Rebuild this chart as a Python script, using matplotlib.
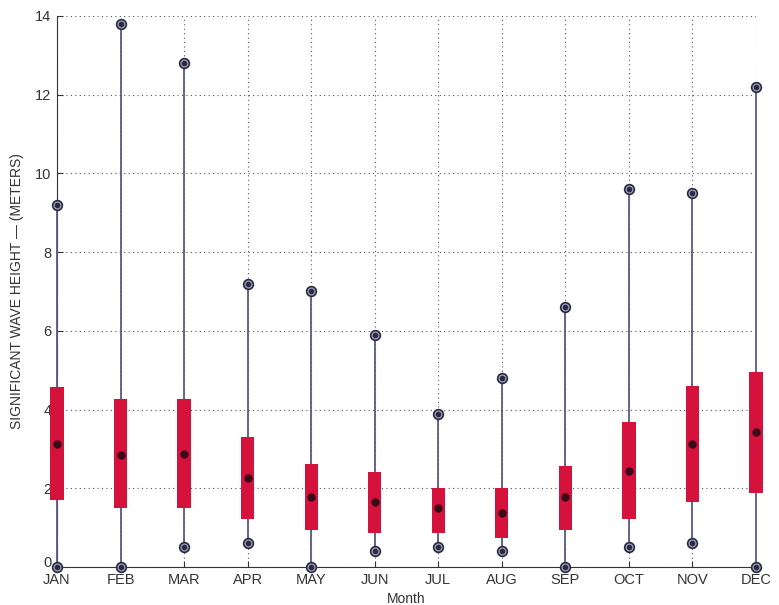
import matplotlib
matplotlib.use("Agg")
import matplotlib.pyplot as plt
import matplotlib.transforms as mtransforms
import numpy as np

plt.rcParams.update({"font.family": "Liberation Sans", "font.size": 10})

MONTHS = ["JAN", "FEB", "MAR", "APR", "MAY", "JUN", "JUL", "AUG", "SEP", "OCT", "NOV", "DEC"]
H_MAX = [9.2, 13.8, 12.8, 7.2, 7.0, 5.9, 3.9, 4.8, 6.6, 9.6, 9.5, 12.2]
H_MIN = [0.0, 0.0, 0.5, 0.6, 0.0, 0.4, 0.5, 0.4, 0.0, 0.5, 0.6, 0.0]
Q_HI = [4.57, 4.27, 4.27, 3.30, 2.62, 2.42, 2.00, 2.00, 2.57, 3.68, 4.60, 4.96]
Q_LO = [1.70, 1.50, 1.50, 1.22, 0.94, 0.86, 0.87, 0.73, 0.94, 1.22, 1.65, 1.87]
MEDIAN = [3.12, 2.85, 2.87, 2.26, 1.78, 1.65, 1.49, 1.36, 1.78, 2.44, 3.12, 3.42]

RED = "#d4123c"
LINE = "#5a5a80"
MARK = "#2a2a45"
TXT = "#333333"

fig = plt.figure(figsize=(7.79, 6.05), dpi=100)
ax = fig.add_axes([0.0732, 0.0628, 0.8972, 0.9108])
x = np.arange(1, len(MONTHS) + 1)

ax.vlines(x, H_MIN, H_MAX, color=LINE, lw=1.3, zorder=3, clip_on=False)
ax.bar(x, np.array(Q_HI) - np.array(Q_LO), bottom=Q_LO, width=0.21,
       color=RED, zorder=4, clip_on=False)
ax.plot(x, MEDIAN, "o", ms=5, color="#3a0a18", zorder=5, clip_on=False)
for y in (H_MAX, H_MIN):
    ax.plot(x, y, "o", ms=7, mfc="#a0a0b4", mec=MARK, mew=1.2, zorder=6, clip_on=False)
    ax.plot(x, y, "o", ms=3, color=MARK, zorder=7, clip_on=False)

ax.set_xlim(1, 12)
ax.set_ylim(0, 14)
ax.set_xticks(x)
ax.set_xticklabels(MONTHS)
ax.set_yticks(np.arange(0, 15, 2))
ax.tick_params(direction="in", length=4, color=TXT, labelcolor=TXT, labelsize=10.5)
ax.tick_params(axis="x", pad=4)
ax.tick_params(axis="y", pad=4)
ax.grid(True, ls=(0, (1, 3)), color="#555555", lw=0.8)
ax.set_axisbelow(True)
for s in ("top", "right"):
    ax.spines[s].set_visible(False)
for s in ("left", "bottom"):
    ax.spines[s].set_color(TXT)
ax.set_xlabel("Month", labelpad=4, color=TXT)
ax.set_ylabel("SIGNIFICANT WAVE HEIGHT — (METERS)", labelpad=8, color=TXT)

# the "0" label sits in the corner above JAN; lift it a little so they don't collide
zero = ax.get_yticklabels()[0]
zero.set_transform(zero.get_transform() +
                   mtransforms.ScaledTranslation(0, 4 / 72, fig.dpi_scale_trans))

fig.savefig("out.png", dpi=100)
